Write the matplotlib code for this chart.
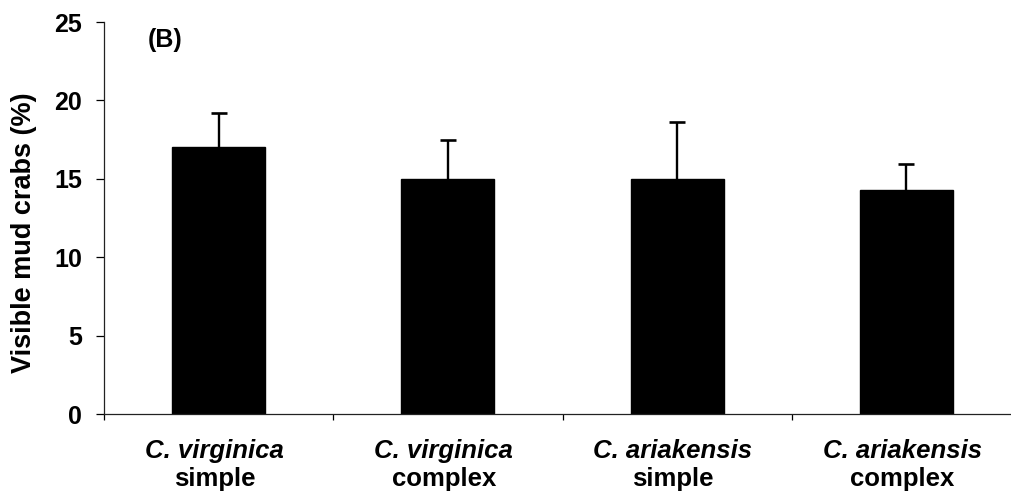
import numpy as np
import matplotlib
matplotlib.use("Agg")
import matplotlib.pyplot as plt

species = ["C. virginica", "C. virginica", "C. ariakensis", "C. ariakensis"]
habitat = ["simple", "complex", "simple", "complex"]
visible_mean = [17.0, 15.0, 15.0, 14.3]
visible_se = [2.2, 2.5, 3.6, 1.65]
y_ticks = [0, 5, 10, 15, 20, 25]

plt.rcParams["font.family"] = ["Liberation Sans", "DejaVu Sans"]

fig = plt.figure(figsize=(10.12, 5.04), dpi=100)
ax = fig.add_axes([104 / 1012, 90 / 504, (1021 - 104) / 1012, 392 / 504])

x = np.arange(len(visible_mean))
mean = np.array(visible_mean)
top = mean + np.array(visible_se)
ax.bar(x, mean, width=0.405, color="black", edgecolor="black", zorder=2)

# upper-only error bars with caps
cap_half = 0.035
ax.vlines(x, mean, top, colors="black", linewidth=1.7, zorder=3)
ax.hlines(top, x - cap_half, x + cap_half, colors="black", linewidth=1.9,
          zorder=3)

ax.set_xlim(-0.5, len(x) - 0.5)
ax.set_ylim(0, 25)
ax.set_yticks(y_ticks)
ax.set_yticklabels([str(v) for v in y_ticks], fontsize=18, fontweight="bold")
ax.tick_params(axis="y", direction="out", length=5.8, width=0.9, pad=10)

# category separators on the x axis
ax.set_xticks(np.arange(-0.5, len(x) - 0.5, 1.0))
ax.set_xticklabels([])
ax.tick_params(axis="x", direction="out", length=4.3, width=0.9)

for side in ("top", "right"):
    ax.spines[side].set_visible(False)
for side in ("left", "bottom"):
    ax.spines[side].set_linewidth(0.9)
    ax.spines[side].set_color("#222222")

for xi, sp, hb in zip(x, species, habitat):
    ax.annotate(sp, xy=(xi, 0), xycoords="data", xytext=(-3, -31.7),
                textcoords="offset points", ha="center", va="baseline",
                fontsize=18.5, fontweight="bold", fontstyle="italic",
                annotation_clip=False)
    ax.annotate(hb, xy=(xi, 0), xycoords="data", xytext=(-3, -51.8),
                textcoords="offset points", ha="center", va="baseline",
                fontsize=18.5, fontweight="bold", annotation_clip=False)

ax.text(-0.308, 23.85, "(B)", fontsize=18, fontweight="bold",
        ha="left", va="center")

fig.text(24 / 1012, 1 - 233 / 504, "Visible mud crabs (%)", rotation=90,
         ha="center", va="center", fontsize=19.5, fontweight="bold")

fig.savefig("out.png", dpi=100)
